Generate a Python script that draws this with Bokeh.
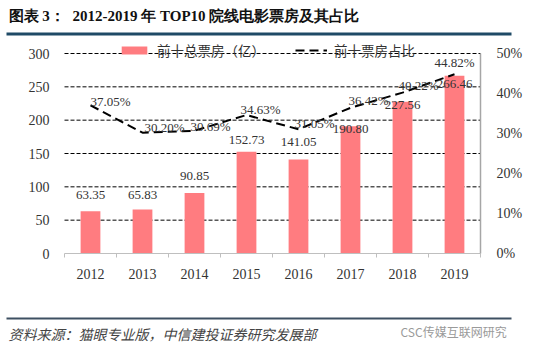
from bokeh.plotting import figure
from bokeh.models import (ColumnDataSource, Range1d, LinearAxis, FixedTicker,
                          PrintfTickFormatter, Legend, LegendItem, Label, BoxAnnotation)
from bokeh.embed import file_html
from bokeh.resources import INLINE
from bokeh.core.properties import value

# ---- data ----
years = ["2012", "2013", "2014", "2015", "2016", "2017", "2018", "2019"]
box_office = [63.35, 65.83, 90.85, 152.73, 141.05, 190.80, 227.56, 266.46]   # 亿
share_pct = [37.05, 30.20, 30.69, 34.63, 31.05, 36.42, 40.22, 44.82]          # %
left_ticks = [0, 50, 100, 150, 200, 250, 300]
right_ticks = [0, 10, 20, 30, 40, 50]
bar_name = "前十总票房（亿）"
line_name = "前十票房占比"
title_a = "图表 3："
title_b = "2012-2019 年 TOP10 院线电影票房及其占比"
source_text = "资料来源：猫眼专业版，中信建投证券研究发展部"
mark_text = "CSC传媒互联网研究"

# ---- label styling offsets (pixels) ----
bar_lbl_dy = [-16, -15, -17, -12, -17, 3, 3, 8]
pct_lbl_dx = [20, 22, 16, 14, 16, 18, 16, 0]
pct_lbl_dy = [-4, -5, -4, -5, -6, -7, -7, -12]

idx = list(range(len(years)))
src = ColumnDataSource(dict(
    x=idx, bo=box_office, share=share_pct,
    bo_lbl=[f"{v:.2f}" for v in box_office],
    sh_lbl=[f"{v:.2f}%" for v in share_pct],
    bdy=bar_lbl_dy, pdx=pct_lbl_dx, pdy=pct_lbl_dy,
))

BAR = "#FF7C80"
FONT = "Liberation Serif"
CJK = "Noto Sans CJK SC"
W, H = 550, 350
# plotting area in page pixels
PL, PR, PT, PB = 64, 480, 53, 253

n = len(years)
x_lo, x_hi = -0.5, n - 0.5
ux = (PR - PL) / (x_hi - x_lo)                      # px per category
ymax = max(left_ticks)
uy = (PB - PT) / ymax                               # px per unit (left)
pmax = max(right_ticks)
up = (PB - PT) / pmax                               # px per unit (right)

p = figure(width=W, height=H, output_backend="svg", toolbar_location=None,
           x_range=Range1d(x_lo - PL / ux, x_hi + (W - PR) / ux),
           y_range=Range1d(-(H - PB) / uy, ymax + PT / uy),
           x_axis_location=None, y_axis_location=None, min_border=0,
           background_fill_color="white", border_fill_color="white")
p.outline_line_color = None
p.grid.visible = False
p.extra_y_ranges = {"pct": Range1d(-(H - PB) / up, pmax + PT / up),
                    "py": Range1d(H, 0)}
p.extra_x_ranges = {"px": Range1d(0, W)}

# dashed horizontal grid (behind bars)
grid_vals = left_ticks[1:]
p.segment(x0=[x_lo] * len(grid_vals), x1=[x_hi] * len(grid_vals), y0=grid_vals,
          y1=grid_vals, line_color="black", line_width=1, line_dash="4 2")

bars = p.vbar(x="x", top="bo", width=0.38, source=src, fill_color=BAR, line_color=None)
ln = p.line(x="x", y="share", y_range_name="pct", source=src, line_color="black",
            line_width=2, line_dash="9 5")

p.text(x="x", y="bo", text="bo_lbl", y_offset="bdy", source=src, text_align="center",
       text_baseline="middle", text_font=value(FONT), text_font_size="13px",
       text_color="#333333")
p.text(x="x", y="share", text="sh_lbl", x_offset="pdx", y_offset="pdy", y_range_name="pct",
       source=src, text_align="center", text_baseline="middle", text_font=value(FONT),
       text_font_size="13px", text_color="#333333")

# axes pinned to the plotting area edges
xa = LinearAxis(fixed_location=0, bounds=(x_lo, x_hi),
                ticker=FixedTicker(ticks=idx, minor_ticks=[i - 0.5 for i in range(n + 1)]))
xa.major_label_overrides = {i: y for i, y in enumerate(years)}
xa.axis_line_color = "#BFBFBF"
xa.major_tick_line_color = None
xa.minor_tick_line_color = "#BFBFBF"
xa.minor_tick_out = 4
xa.minor_tick_in = 0
xa.major_label_standoff = 9
xa.major_label_text_font = FONT
xa.major_label_text_font_size = "14px"
xa.major_label_text_color = "#333333"
p.add_layout(xa, "below")

ya = LinearAxis(fixed_location=x_lo, bounds=(0, ymax), ticker=FixedTicker(ticks=left_ticks))
ya.axis_line_color = None
ya.major_tick_line_color = None
ya.minor_tick_line_color = None
ya.major_label_standoff = 9
ya.major_label_text_font = FONT
ya.major_label_text_font_size = "14px"
ya.major_label_text_color = "#333333"
p.add_layout(ya, "left")

ra = LinearAxis(y_range_name="pct", fixed_location=x_hi, bounds=(0, pmax),
                ticker=FixedTicker(ticks=right_ticks),
                formatter=PrintfTickFormatter(format="%d%%"))
ra.axis_line_color = "#A6A6A6"
ra.axis_line_width = 1.5
ra.major_tick_line_color = None
ra.minor_tick_line_color = None
ra.major_label_standoff = 10
ra.major_label_text_font = FONT
ra.major_label_text_font_size = "14px"
ra.major_label_text_color = "#333333"
p.add_layout(ra, "right")

legend = Legend(items=[LegendItem(label=bar_name, renderers=[bars]),
                       LegendItem(label=line_name, renderers=[ln])],
                orientation="horizontal", location=(118, H - 60),
                glyph_width=32, glyph_height=10, label_standoff=7, spacing=30,
                padding=0, margin=0, border_line_color=None, label_height=12,
                background_fill_alpha=0, label_text_font=CJK,
                label_text_font_size="13.5px", label_text_color="#333333")
p.add_layout(legend)

# ---- header / footer in page-pixel ranges ----
def lab(x, y, text, **kw):
    p.add_layout(Label(x=x, y=y, x_range_name="px", y_range_name="py", text=text,
                       text_baseline="middle", **kw))

def rule(l, r, t, b, color):
    p.add_layout(BoxAnnotation(left=l, right=r, top=t, bottom=b, x_range_name="px",
                               y_range_name="py", fill_color=color, fill_alpha=1,
                               line_color=None))

lab(8, 15, title_a, text_font=FONT, text_font_style="bold", text_font_size="15px",
    text_color="#111111")
lab(72, 15, title_b, text_font=FONT, text_font_style="bold", text_font_size="15px",
    text_color="#111111")
rule(6, 511, 32, 35, "#1F4A66")
rule(6, 511, 317, 319, "#3E5062")
lab(8, 333, source_text, text_font=CJK, text_font_style="italic", text_font_size="14px",
    text_color="#444444")
lab(400, 331, mark_text, text_font=CJK, text_font_size="12px", text_color="#9A9A9A")

open("out.html", "w").write(file_html(p, INLINE))
